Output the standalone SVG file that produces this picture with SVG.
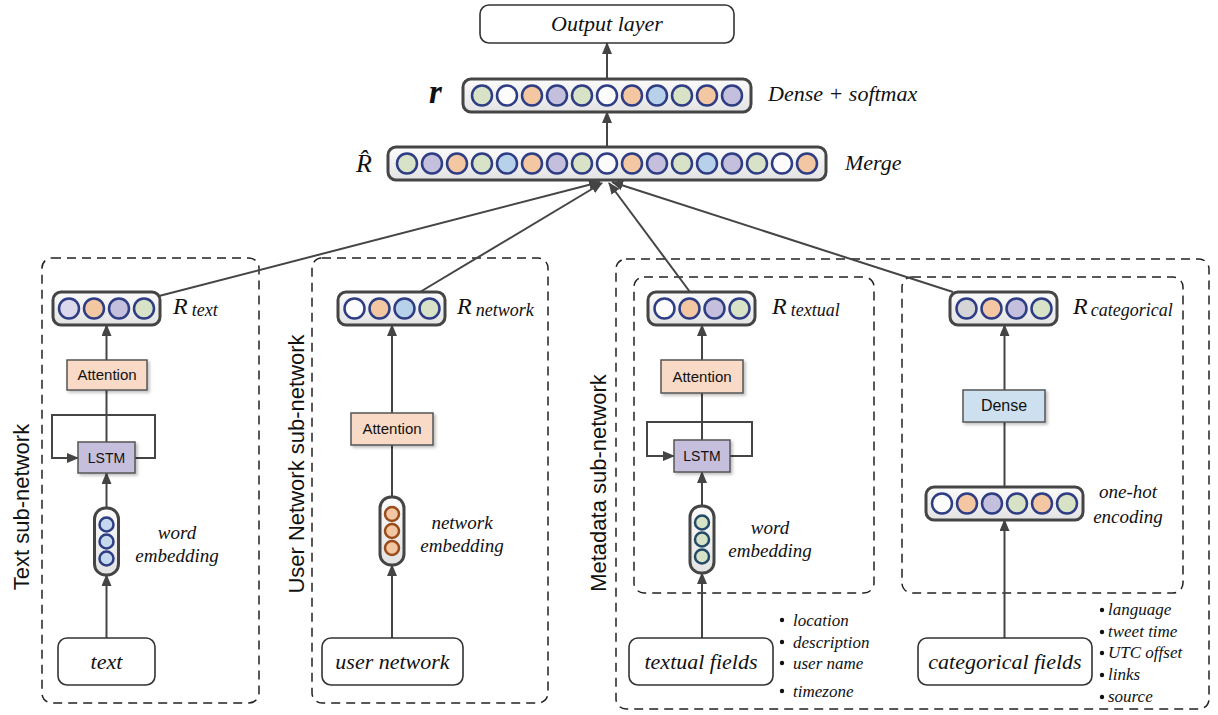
<svg xmlns="http://www.w3.org/2000/svg" width="1218" height="715" viewBox="0 0 1218 715">
<defs>
<linearGradient id="vg" x1="0" y1="0" x2="0" y2="1"><stop offset="0" stop-color="#fbfbfb"/><stop offset="1" stop-color="#e3e3e3"/></linearGradient>
<marker id="ah" markerUnits="userSpaceOnUse" markerWidth="12" markerHeight="10" refX="11" refY="5" orient="auto"><path d="M0,0 L12,5 L0,10 z" fill="#444"/></marker>
<filter id="sh" x="-10%" y="-10%" width="130%" height="140%"><feDropShadow dx="2" dy="2" stdDeviation="1.5" flood-color="#000" flood-opacity="0.25"/></filter>
</defs>
<style>
.vec{fill:url(#vg);stroke:#454545;stroke-width:3}
.c{stroke:#2e3d84;stroke-width:2.5}
.g{fill:#d7e2c6}.p{fill:#c4bfdd}.o{fill:#f4c7a3}.b{fill:#b8d1ea}.w{fill:#fcfcfc}.gr{fill:#d5d5d8}.lv{fill:#dcd8ec}
.box{fill:#fff;stroke:#333;stroke-width:1.6}
.dash{fill:none;stroke:#222;stroke-width:1.5;stroke-dasharray:9 6}
.ln{stroke:#454545;stroke-width:2;fill:none}
.ar{marker-end:url(#ah)}
.it{font-family:"Liberation Serif",serif;font-style:italic;fill:#111}
.sans{font-family:"Liberation Sans",Arial,sans-serif;fill:#111}
.att{fill:#f8dac6;stroke:#555;stroke-width:1.5;filter:url(#sh)}
.lstm{fill:#c5bedc;stroke:#555;stroke-width:1.5;filter:url(#sh)}
.dense{fill:#cde0f0;stroke:#555;stroke-width:1.5;filter:url(#sh)}
.pill{fill:url(#vg);stroke:#454545;stroke-width:3}
</style>

<g id="containers">
<rect class="dash" x="42" y="258" width="217" height="445" rx="10"/>
<rect class="dash" x="312" y="258" width="236" height="445" rx="10"/>
<rect class="dash" x="616" y="259" width="593" height="450" rx="10"/>
<rect class="dash" x="634" y="277" width="240" height="316" rx="10"/>
<rect class="dash" x="902" y="277" width="281" height="316" rx="10"/>
<text class="sans" font-size="22" text-anchor="middle" transform="translate(29,507) rotate(-90)">Text sub-network</text>
<text class="sans" font-size="22" text-anchor="middle" transform="translate(304,464) rotate(-90)">User Network sub-network</text>
<text class="sans" font-size="22" text-anchor="middle" transform="translate(606,483) rotate(-90)">Metadata sub-network</text>
</g>

<g id="connectors">
<line class="ln ar" x1="607" y1="79" x2="607" y2="43"/>
<line class="ln ar" x1="607" y1="147" x2="607" y2="112"/>
<line class="ln ar" x1="159" y1="296" x2="600" y2="182"/>
<line class="ln ar" x1="420" y1="292" x2="602" y2="183"/>
<line class="ln ar" x1="690" y1="292" x2="609" y2="183"/>
<line class="ln ar" x1="953" y1="292" x2="612" y2="182"/>
<line class="ln ar" x1="106.5" y1="638" x2="106.5" y2="575"/>
<line class="ln ar" x1="106.5" y1="508" x2="106.5" y2="473"/>
<line class="ln" x1="106.5" y1="442" x2="106.5" y2="390"/>
<line class="ln ar" x1="106.5" y1="360" x2="106.5" y2="325"/>
<path class="ln ar" d="M135,458 H155 V415 H52 V458 H78"/>
<line class="ln ar" x1="392" y1="638" x2="392" y2="565"/>
<line class="ln" x1="392" y1="497" x2="392" y2="445"/>
<line class="ln ar" x1="392" y1="413" x2="392" y2="325"/>
<line class="ln ar" x1="702" y1="638" x2="702" y2="573"/>
<line class="ln ar" x1="702" y1="506" x2="702" y2="472"/>
<line class="ln" x1="702" y1="440" x2="702" y2="393"/>
<line class="ln ar" x1="702" y1="360" x2="702" y2="325"/>
<path class="ln ar" d="M730,456 H752 V422 H647 V456 H674"/>
<line class="ln ar" x1="1004.5" y1="638" x2="1004.5" y2="520"/>
<line class="ln" x1="1004.5" y1="487" x2="1004.5" y2="422"/>
<line class="ln ar" x1="1004.5" y1="390" x2="1004.5" y2="325"/>
</g>

<g id="output-layer">
<rect class="box" x="480" y="5" width="254" height="38" rx="9"/>
<text class="it" font-size="22" x="607" y="31" text-anchor="middle">Output layer</text>
</g>

<g id="r-dense">
<rect class="vec" x="463" y="79" width="288" height="33" rx="8"/>
<circle class="c g" cx="482" cy="95.5" r="10"/><circle class="c w" cx="507" cy="95.5" r="10"/><circle class="c o" cx="532" cy="95.5" r="10"/><circle class="c p" cx="557" cy="95.5" r="10"/><circle class="c g" cx="582" cy="95.5" r="10"/><circle class="c w" cx="607" cy="95.5" r="10"/><circle class="c o" cx="632" cy="95.5" r="10"/><circle class="c b" cx="657" cy="95.5" r="10"/><circle class="c g" cx="682" cy="95.5" r="10"/><circle class="c o" cx="707" cy="95.5" r="10"/><circle class="c p" cx="732" cy="95.5" r="10"/>
<text class="it" font-size="33" font-weight="bold" x="429" y="103">r</text>
<text class="it" font-size="22" x="768" y="101">Dense + softmax</text>
</g>

<g id="r-hat-merge">
<rect class="vec" x="388" y="147" width="438" height="33" rx="8"/>
<circle class="c g" cx="407" cy="163.5" r="10"/><circle class="c p" cx="432" cy="163.5" r="10"/><circle class="c o" cx="457" cy="163.5" r="10"/><circle class="c g" cx="482" cy="163.5" r="10"/><circle class="c b" cx="507" cy="163.5" r="10"/><circle class="c o" cx="532" cy="163.5" r="10"/><circle class="c p" cx="557" cy="163.5" r="10"/><circle class="c g" cx="582" cy="163.5" r="10"/><circle class="c w" cx="607" cy="163.5" r="10"/><circle class="c o" cx="632" cy="163.5" r="10"/><circle class="c p" cx="657" cy="163.5" r="10"/><circle class="c g" cx="682" cy="163.5" r="10"/><circle class="c b" cx="707" cy="163.5" r="10"/><circle class="c p" cx="732" cy="163.5" r="10"/><circle class="c g" cx="757" cy="163.5" r="10"/><circle class="c w" cx="782" cy="163.5" r="10"/><circle class="c o" cx="807" cy="163.5" r="10"/>
<text class="it" font-size="26" x="356" y="172">R̂</text>
<text class="it" font-size="22" x="845" y="170">Merge</text>
</g>

<g id="text-input">
<rect class="box" x="58" y="638" width="97" height="47" rx="9"/>
<text class="it" font-size="22" x="106.5" y="669" text-anchor="middle">text</text>
</g>
<g id="word-embedding-text">
<rect class="pill" x="94.5" y="508" width="24" height="67" rx="11"/>
<circle cx="106.5" cy="524.5" r="7" fill="#c5d9ee" stroke="#2e3d84" stroke-width="2.5"/>
<circle cx="106.5" cy="541.5" r="7" fill="#c5d9ee" stroke="#2e3d84" stroke-width="2.5"/>
<circle cx="106.5" cy="558.5" r="7" fill="#c5d9ee" stroke="#2e3d84" stroke-width="2.5"/>
<text class="it" font-size="19" x="177" y="539" text-anchor="middle">word</text>
<text class="it" font-size="19" x="177" y="562" text-anchor="middle">embedding</text>
</g>
<g id="lstm-text">
<rect class="lstm" x="78" y="442" width="57" height="31"/>
<text class="sans" font-size="14" x="106.5" y="462.5" text-anchor="middle">LSTM</text>
</g>
<g id="attention-text">
<rect class="att" x="67" y="360" width="80" height="30"/>
<text class="sans" font-size="15" x="107" y="380" text-anchor="middle">Attention</text>
</g>
<g id="r-text">
<rect class="vec" x="53" y="292" width="107" height="33" rx="8"/>
<circle class="c lv" cx="69" cy="308.5" r="10"/><circle class="c o" cx="94" cy="308.5" r="10"/><circle class="c p" cx="119" cy="308.5" r="10"/><circle class="c g" cx="144" cy="308.5" r="10"/>
<text class="it" x="173" y="314"><tspan font-size="24">R</tspan><tspan font-size="18" dx="4" dy="2">text</tspan></text>
</g>

<g id="user-network-input">
<rect class="box" x="322" y="638" width="141" height="47" rx="9"/>
<text class="it" font-size="22" x="392.5" y="669" text-anchor="middle">user network</text>
</g>
<g id="network-embedding">
<rect class="pill" x="380" y="497" width="24" height="68" rx="11"/>
<circle cx="392" cy="514" r="7" fill="#f4c7a3" stroke="#9a4d1c" stroke-width="2.5"/>
<circle cx="392" cy="531" r="7" fill="#f4c7a3" stroke="#9a4d1c" stroke-width="2.5"/>
<circle cx="392" cy="548" r="7" fill="#f4c7a3" stroke="#9a4d1c" stroke-width="2.5"/>
<text class="it" font-size="19" x="462" y="529" text-anchor="middle">network</text>
<text class="it" font-size="19" x="462" y="552" text-anchor="middle">embedding</text>
</g>
<g id="attention-network">
<rect class="att" x="351" y="413" width="82" height="32"/>
<text class="sans" font-size="15" x="392" y="434" text-anchor="middle">Attention</text>
</g>
<g id="r-network">
<rect class="vec" x="338" y="292" width="107" height="33" rx="8"/>
<circle class="c w" cx="354.5" cy="308.5" r="10"/><circle class="c o" cx="379.5" cy="308.5" r="10"/><circle class="c b" cx="404.5" cy="308.5" r="10"/><circle class="c g" cx="429.5" cy="308.5" r="10"/>
<text class="it" x="457" y="314"><tspan font-size="24">R</tspan><tspan font-size="18" dx="4" dy="2">network</tspan></text>
</g>

<g id="textual-fields-input">
<rect class="box" x="629" y="638" width="144" height="47" rx="9"/>
<text class="it" font-size="22" x="701" y="669" text-anchor="middle">textual fields</text>
<g class="it" font-size="17">
<circle cx="782" cy="620" r="2.2" fill="#111"/><text x="793" y="626">location</text>
<circle cx="782" cy="642" r="2.2" fill="#111"/><text x="793" y="648">description</text>
<circle cx="782" cy="663" r="2.2" fill="#111"/><text x="793" y="669">user name</text>
<circle cx="782" cy="691" r="2.2" fill="#111"/><text x="793" y="697">timezone</text>
</g>
</g>
<g id="word-embedding-textual">
<rect class="pill" x="690" y="506" width="24" height="67" rx="11"/>
<circle cx="702" cy="522.5" r="7" fill="#d7e2c6" stroke="#234a66" stroke-width="2.5"/>
<circle cx="702" cy="539.5" r="7" fill="#d7e2c6" stroke="#234a66" stroke-width="2.5"/>
<circle cx="702" cy="556.5" r="7" fill="#d7e2c6" stroke="#234a66" stroke-width="2.5"/>
<text class="it" font-size="19" x="770" y="534" text-anchor="middle">word</text>
<text class="it" font-size="19" x="770" y="557" text-anchor="middle">embedding</text>
</g>
<g id="lstm-textual">
<rect class="lstm" x="674" y="440" width="56" height="32"/>
<text class="sans" font-size="14" x="702" y="461" text-anchor="middle">LSTM</text>
</g>
<g id="attention-textual">
<rect class="att" x="661" y="360" width="82" height="33"/>
<text class="sans" font-size="15" x="702" y="382" text-anchor="middle">Attention</text>
</g>
<g id="r-textual">
<rect class="vec" x="648" y="292" width="107" height="33" rx="8"/>
<circle class="c w" cx="664.5" cy="308.5" r="10"/><circle class="c o" cx="689.5" cy="308.5" r="10"/><circle class="c p" cx="714.5" cy="308.5" r="10"/><circle class="c g" cx="739.5" cy="308.5" r="10"/>
<text class="it" x="772" y="314"><tspan font-size="24">R</tspan><tspan font-size="18" dx="4" dy="2">textual</tspan></text>
</g>

<g id="categorical-fields-input">
<rect class="box" x="918" y="638" width="174" height="47" rx="9"/>
<text class="it" font-size="22" x="1005" y="669" text-anchor="middle">categorical fields</text>
<g class="it" font-size="17">
<circle cx="1102" cy="610" r="2.2" fill="#111"/><text x="1108" y="615">language</text>
<circle cx="1102" cy="632" r="2.2" fill="#111"/><text x="1108" y="637">tweet time</text>
<circle cx="1102" cy="653" r="2.2" fill="#111"/><text x="1108" y="658">UTC offset</text>
<circle cx="1102" cy="675" r="2.2" fill="#111"/><text x="1108" y="680">links</text>
<circle cx="1102" cy="697" r="2.2" fill="#111"/><text x="1108" y="702">source</text>
</g>
</g>
<g id="one-hot-encoding">
<rect class="vec" x="926" y="487" width="157" height="33" rx="8"/>
<circle class="c w" cx="942" cy="503.5" r="10"/><circle class="c o" cx="967" cy="503.5" r="10"/><circle class="c p" cx="992" cy="503.5" r="10"/><circle class="c g" cx="1017" cy="503.5" r="10"/><circle class="c o" cx="1042" cy="503.5" r="10"/><circle class="c g" cx="1067" cy="503.5" r="10"/>
<text class="it" font-size="19" x="1128" y="498" text-anchor="middle">one-hot</text>
<text class="it" font-size="19" x="1128" y="523" text-anchor="middle">encoding</text>
</g>
<g id="dense">
<rect class="dense" x="963" y="390" width="82" height="32"/>
<text class="sans" font-size="16" x="1004" y="411" text-anchor="middle">Dense</text>
</g>
<g id="r-categorical">
<rect class="vec" x="950" y="292" width="107" height="33" rx="8"/>
<circle class="c gr" cx="966.5" cy="308.5" r="10"/><circle class="c o" cx="991.5" cy="308.5" r="10"/><circle class="c p" cx="1016.5" cy="308.5" r="10"/><circle class="c g" cx="1041.5" cy="308.5" r="10"/>
<text class="it" x="1073" y="314"><tspan font-size="24">R</tspan><tspan font-size="18" dx="3" dy="2">categorical</tspan></text>
</g>
</svg>
